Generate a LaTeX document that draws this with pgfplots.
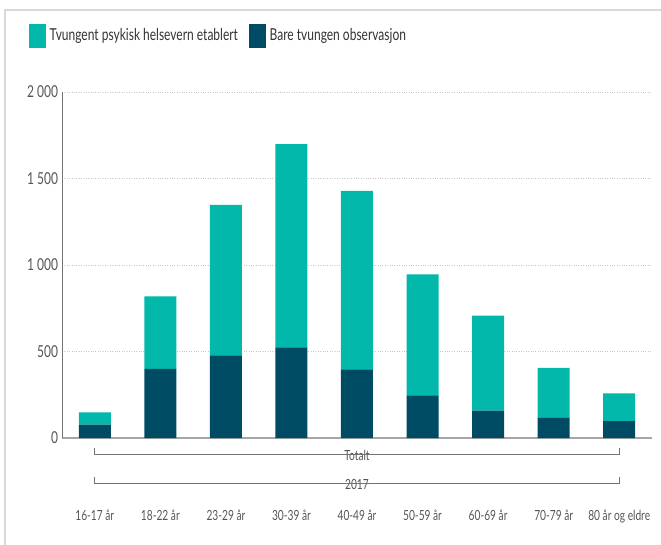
\documentclass[border=0pt]{standalone}
\usepackage{pgfplots}
\pgfplotsset{compat=1.18}
\usepackage{fontspec}
\setmainfont{Lato}[FakeStretch=0.73]
\definecolor{cteal}{HTML}{01B8AA}
\definecolor{cdark}{HTML}{004B64}
\definecolor{ctext}{HTML}{555555}
\pgfplotstableread{
x teal dark
0 70 78
1 420 399
2 870 478
3 1175 524
4 1031 397
5 699 247
6 549 158
7 289 117
8 160 98
}\datatable
\begin{document}
\begin{tikzpicture}
\useasboundingbox (0,0) rectangle (661bp,545bp);
\draw[black!15, line width=1.2bp] (5bp,0) -- (5bp,535bp) -- (661bp,535bp);
% legend
\fill[cteal] (29bp,{(545-48)*1bp}) rectangle (46bp,{(545-24)*1bp});
\node[anchor=base west, inner sep=0, text=black!80, font=\fontsize{16.5}{18}\selectfont] at (49.5bp,{(545-41)*1bp}) {Tvungent psykisk helsevern etablert};
\fill[cdark] (249bp,{(545-48)*1bp}) rectangle (266bp,{(545-24)*1bp});
\node[anchor=base west, inner sep=0, text=black!80, font=\fontsize{16.5}{18}\selectfont] at (269.5bp,{(545-41)*1bp}) {Bare tvungen observasjon};
\begin{axis}[
  at={(62bp,107bp)}, anchor=south west,
  scale only axis, width=590bp, height=346bp,
  ybar stacked, bar width=32bp,
  xmin=-0.5, xmax=8.5, ymin=0, ymax=2000,
  axis x line=bottom, axis y line=left,
  axis line style={-},
  x axis line style={black!35, line width=1.6bp},
  y axis line style={black!55, line width=0.7bp},
  xtick=data,
  xticklabels={16-17 år,18-22 år,23-29 år,30-39 år,40-49 år,50-59 år,60-69 år,70-79 år,80 år og eldre},
  xticklabel style={anchor=base, yshift=-82bp, inner sep=0pt, text=ctext, font=\fontsize{14}{16}\selectfont},
  ytick={0,500,1000,1500,2000},
  yticklabels={0,500,1 000,1 500,2 000},
  yticklabel style={text=ctext, font=\fontsize{16.5}{18}\selectfont, xshift=-0.5bp},
  major tick length=0pt,
  ymajorgrids, grid style={black!22, dotted, line width=0.8bp},
  clip=false,
]
\addplot[fill=cdark, draw=none] table[x=x, y=dark] {\datatable};
\addplot[fill=cteal, draw=none] table[x=x, y=teal] {\datatable};
\draw[black!55, line width=0.8bp] ([yshift=-10bp]axis cs:0,0) -- ([yshift=-16bp]axis cs:0,0) -- ([yshift=-16bp]axis cs:8,0) -- ([yshift=-10bp]axis cs:8,0);
\node[fill=white, inner xsep=2bp, inner ysep=1bp, text=ctext, font=\fontsize{14}{16}\selectfont] at ([yshift=-17bp]axis cs:4,0) {Totalt};
\draw[black!55, line width=0.8bp] ([yshift=-39bp]axis cs:0,0) -- ([yshift=-45bp]axis cs:0,0) -- ([yshift=-45bp]axis cs:8,0) -- ([yshift=-39bp]axis cs:8,0);
\node[fill=white, inner xsep=2bp, inner ysep=1bp, text=ctext, font=\fontsize{14}{16}\selectfont] at ([yshift=-46bp]axis cs:4,0) {2017};
\end{axis}
\end{tikzpicture}
\end{document}
